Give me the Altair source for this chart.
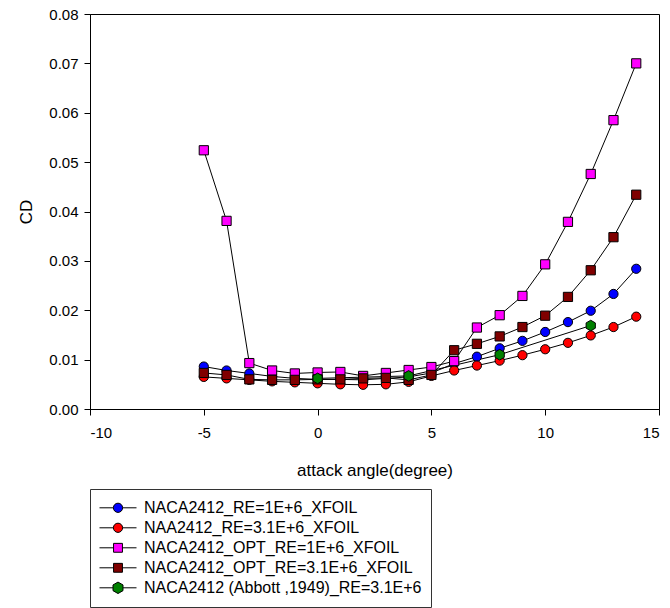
import json
import altair as alt
import pandas as pd

# Angle of attack (degree) for the XFOIL runs
angles = [-5, -4, -3, -2, -1, 0, 1, 2, 3, 4, 5, 6, 7, 8, 9, 10, 11, 12, 13, 14]

cd_re1e6 = [0.0086, 0.0078, 0.0072, 0.0066, 0.0062, 0.0060, 0.0060, 0.0059, 0.0062, 0.0065,
            0.0073, 0.0092, 0.0106, 0.0123, 0.0138, 0.0156, 0.0176, 0.0199, 0.0233, 0.0284]
cd_re31e6 = [0.0065, 0.0062, 0.0059, 0.0056, 0.0054, 0.0052, 0.0050, 0.0049, 0.0050, 0.0055,
             0.0067, 0.0078, 0.0088, 0.0098, 0.0109, 0.0121, 0.0134, 0.0149, 0.0166, 0.0187]
cd_opt_re1e6 = [0.0524, 0.0381, 0.0093, 0.0078, 0.0072, 0.0074, 0.0075, 0.0067, 0.0073, 0.0079,
                0.0085, 0.0097, 0.0165, 0.0190, 0.0229, 0.0293, 0.0379, 0.0476, 0.0585, 0.0700]
cd_opt_re31e6 = [0.0073, 0.0069, 0.0060, 0.0059, 0.0059, 0.0060, 0.0060, 0.0062, 0.0063, 0.0059,
                 0.0069, 0.0119, 0.0132, 0.0147, 0.0166, 0.0189, 0.0227, 0.0281, 0.0348, 0.0434]

# Experimental data (Abbott, 1949)
abbott_angles = [0, 4, 8, 12]
cd_abbott = [0.0062, 0.0067, 0.0110, 0.0169]

series_names = [
    "NACA2412_RE=1E+6_XFOIL",
    "NAA2412_RE=3.1E+6_XFOIL",
    "NACA2412_OPT_RE=1E+6_XFOIL",
    "NACA2412_OPT_RE=3.1E+6_XFOIL",
    "NACA2412 (Abbott ,1949)_RE=3.1E+6",
]
series_colors = ["#0000FF", "#FF0000", "#FF00FF", "#800000", "#008000"]
series_markers = ["circle", "circle", "square", "square", "hexagon"]

hexagon = "M0,-1.15L1,-0.575L1,0.575L0,1.15L-1,0.575L-1,-0.575Z"
marker_names = ["circle", "square", "hexagon"]
marker_paths = ["circle", "square", hexagon]

# Legend symbols: a short line with the marker in the middle
legend_paths = [
    "M-1,0H-0.25M0.25,0H1M-0.25,0A0.25,0.25,0,1,1,0.25,0A0.25,0.25,0,1,1,-0.25,0Z",
    "M-1,0H-0.25M0.25,0H1M-0.25,0A0.25,0.25,0,1,1,0.25,0A0.25,0.25,0,1,1,-0.25,0Z",
    "M-1,0H-0.24M0.24,0H1M-0.24,-0.24H0.24V0.24H-0.24Z",
    "M-1,0H-0.24M0.24,0H1M-0.24,-0.24H0.24V0.24H-0.24Z",
    "M-1,0H-0.27M0.27,0H1M0,-0.31L0.27,-0.155L0.27,0.155L0,0.31L-0.27,0.155L-0.27,-0.155Z",
]
shape_expr = "{}[indexof({}, datum.value)]".format(json.dumps(legend_paths), json.dumps(series_names))

rows = []
all_values = [cd_re1e6, cd_re31e6, cd_opt_re1e6, cd_opt_re31e6]
for name, marker, values in zip(series_names[:4], series_markers[:4], all_values):
    for a, v in zip(angles, values):
        rows.append({"angle": a, "cd": v, "series": name, "marker": marker})
for a, v in zip(abbott_angles, cd_abbott):
    rows.append({"angle": a, "cd": v, "series": series_names[4], "marker": series_markers[4]})
df = pd.DataFrame(rows)

FONT = "Liberation Sans"
plain_minus = "datum.value < 0 ? '-' + abs(datum.value) : '' + datum.value"

x_enc = alt.X(
    "angle:Q",
    scale=alt.Scale(domain=[-10, 15], nice=False),
    axis=alt.Axis(values=[-10, -5, 0, 5, 10, 15], title="attack angle(degree)",
                  labelExpr=plain_minus, labelPadding=10, titlePadding=22),
)
y_enc = alt.Y(
    "cd:Q",
    scale=alt.Scale(domain=[0, 0.08], nice=False),
    axis=alt.Axis(values=[0, 0.01, 0.02, 0.03, 0.04, 0.05, 0.06, 0.07, 0.08], format=".2f",
                  title="CD", labelPadding=6, titlePadding=13),
)

lines = alt.Chart(df).mark_line(color="black", strokeWidth=1).encode(
    x=x_enc, y=y_enc, detail="series:N"
)

points = alt.Chart(df).mark_point(filled=True, size=85, stroke="black", strokeWidth=1, opacity=1).encode(
    x=x_enc,
    y=y_enc,
    fill=alt.Fill(
        "series:N",
        scale=alt.Scale(domain=series_names, range=series_colors),
        legend=alt.Legend(
            title=None,
            orient="none",
            legendX=0,
            legendY=475,
            padding=9,
            strokeColor="#333333",
            fillColor="white",
            symbolSize=1369,
            symbolType={"expr": shape_expr},
            symbolStrokeColor="black",
            symbolStrokeWidth=1,
            symbolOpacity=1,
            clipHeight=19.6,
            labelOffset=7,
            labelFont=FONT,
            labelFontSize=16,
            labelColor="black",
            labelLimit=0,
            rowPadding=0,
        ),
    ),
    shape=alt.Shape("marker:N", scale=alt.Scale(domain=marker_names, range=marker_paths), legend=None),
)

chart = (
    alt.layer(lines, points)
    .properties(
        width=569,
        height=395,
        autosize=alt.AutoSizeParams(type="none"),
        padding={"left": 90, "top": 14, "right": 11, "bottom": 199},
        background="white",
    )
    .configure_view(stroke="black", strokeWidth=1)
    .configure_axis(
        grid=False,
        domainColor="black",
        tickColor="black",
        tickSize=6,
        labelFont=FONT,
        labelFontSize=15,
        labelColor="black",
        titleFont=FONT,
        titleFontSize=17,
        titleFontWeight="normal",
        titleColor="black",
    )
)

chart.save("out.html", embed_options={"renderer": "svg", "actions": False})
